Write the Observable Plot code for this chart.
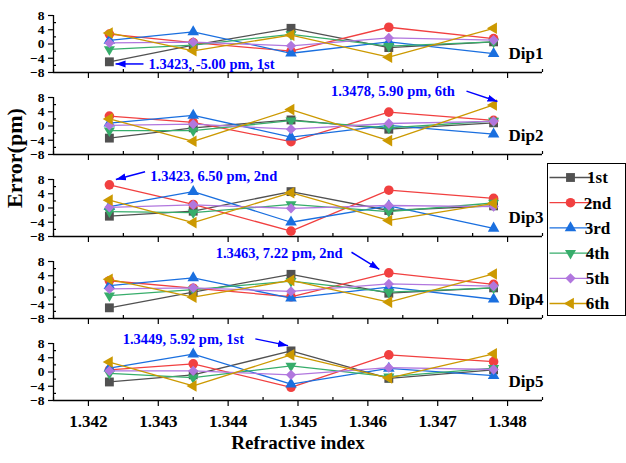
<!DOCTYPE html>
<html><head><meta charset="utf-8">
<script src="https://cdn.jsdelivr.net/npm/d3@7"></script>
<script src="https://cdn.jsdelivr.net/npm/@observablehq/plot@0.6"></script>
<style>
html,body{margin:0;padding:0;background:#fff;}
#chart{position:relative;width:626px;height:463px;}
#chart svg, #chart svg text{font-family:"Liberation Serif","Times New Roman",serif;font-weight:bold;}
</style></head><body><div id="chart"></div>
<script>
// ---- data ----
const refractiveIndex = [1.3423, 1.3435, 1.3449, 1.3463, 1.3478];
const dips = ["Dip1", "Dip2", "Dip3", "Dip4", "Dip5"];
const seriesNames = ["1st", "2nd", "3rd", "4th", "5th", "6th"];
const seriesColors = ["#515151", "#F14040", "#1A6FDF", "#37AD6B", "#B177DE", "#CC9900"];
const xTicks = [1.342, 1.343, 1.344, 1.345, 1.346, 1.347, 1.348];
const xMinorTicks = [1.3415, 1.3425, 1.3435, 1.3445, 1.3455, 1.3465, 1.3475, 1.3485];
const yTicks = [-8, -4, 0, 4, 8];
const yMinorTicks = [-6, -2, 2, 6];

// rows: 1st..6th, columns: refractive index points
const dip1 = [
  [-5.0, -0.3, 4.4, -1.0, 0.6],
  [2.8, 0.4, -2.0, 4.7, 1.5],
  [1.0, 3.4, -2.6, 0.6, -2.7],
  [-1.5, -0.3, 2.7, -0.6, 0.6],
  [0.3, 0.5, -0.5, 1.7, 1.1],
  [3.1, -1.9, 2.5, -3.7, 4.4]
];
const dip2 = [
  [-3.4, -0.5, 1.7, -0.9, 0.9],
  [2.8, 1.0, -4.4, 3.9, 1.6],
  [0.8, 3.0, -3.1, 0.2, -2.3],
  [-1.3, -1.3, 1.5, -0.5, 1.4],
  [0.2, 0.5, -0.9, 0.7, 1.3],
  [2.0, -4.3, 4.6, -4.1, 5.9]
];
const dip3 = [
  [-2.3, -0.9, 4.6, -0.7, 0.6],
  [6.5, 1.0, -6.5, 5.0, 2.7],
  [0.4, 4.6, -4.0, 0.6, -5.7],
  [-1.0, -1.3, 1.0, -1.0, 1.4],
  [0.2, 0.9, -0.1, 0.7, 0.4],
  [2.2, -4.1, 4.3, -3.5, 1.3]
];
const dip4 = [
  [-5.0, -0.6, 4.4, -0.9, 0.6],
  [2.6, 0.5, -1.9, 4.8, 1.6],
  [1.2, 3.4, -2.3, 0.8, -2.6],
  [-1.6, 0.1, 2.5, -0.6, 0.6],
  [0.3, 0.6, -0.4, 1.7, 1.1],
  [3.0, -2.0, 2.7, -3.4, 4.5]
];
const dip5 = [
  [-2.8, -0.8, 5.92, -1.8, 0.6],
  [0.6, 2.3, -4.3, 4.8, 2.9],
  [1.1, 5.0, -3.4, 1.0, -1.0],
  [-0.4, -1.6, 1.7, -1.3, 1.1],
  [0.3, 0.3, -0.8, 1.2, 0.7],
  [2.8, -3.9, 4.8, -1.7, 5.1]
];

// annotations (data coordinates)
const annotationText = ["1.3423, -5.00 pm, 1st", "1.3478, 5.90 pm, 6th", "1.3423, 6.50 pm, 2nd", "1.3463, 7.22 pm, 2nd", "1.3449, 5.92 pm, 1st"];
const annotationTextX = [1.34286, 1.345474, 1.342886, 1.343822, 1.342491];
const annotationTextY = [-5.7, 9.8, 9.0, 10.4, 9.3];
const arrowFromX = [1.342788, 1.347412, 1.342811, 1.345766, 1.344389];
const arrowFromY = [-5.6, 9.8, 10.2, 10.6, 9.3];
const arrowToX = [1.342388, 1.347856, 1.342393, 1.346164, 1.344857];
const arrowToY = [-5.6, 6.9, 8.0, 5.8, 7.4];
const dipLabelX = 1.348013;
const dipLabelY = -2.7;

// ---- build ----
const dipData = [dip1, dip2, dip3, dip4, dip5];
const rows = [];
dipData.forEach((arr, di) => arr.forEach((vals, si) => vals.forEach((v, i) =>
  rows.push({dip: dips[di], series: seriesNames[si], x: refractiveIndex[i], y: v}))));

const annotations = dips.map((d, i) => ({
  dip: d, text: annotationText[i], tx: annotationTextX[i], ty: annotationTextY[i],
  x1: arrowFromX[i], y1: arrowFromY[i], x2: arrowToX[i], y2: arrowToY[i]
}));

const markerStyle = [
  {symbol: "square", r: 5.0, rotate: 0},
  {symbol: "circle", r: 4.8, rotate: 0},
  {symbol: "triangle", r: 4.3, rotate: 0},
  {symbol: "triangle", r: 4.1, rotate: 180},
  {symbol: "square", r: 4.1, rotate: 45},
  {symbol: "triangle", r: 4.3, rotate: 270}
];

const font = "'Liberation Serif', 'Times New Roman', serif";

const seriesMarks = [];
seriesNames.forEach((s, si) => {
  const data = rows.filter(r => r.series === s);
  seriesMarks.push(Plot.line(data, {x: "x", y: "y", fy: "dip", stroke: seriesColors[si], strokeWidth: 1.3}));
  seriesMarks.push(Plot.dot(data, {x: "x", y: "y", fy: "dip", fill: seriesColors[si], stroke: "none",
    symbol: markerStyle[si].symbol, r: markerStyle[si].r, rotate: markerStyle[si].rotate}));
});

const plot = Plot.plot({
  width: 626, height: 463,
  marginLeft: 53, marginRight: 84, marginTop: 14, marginBottom: 62,
  x: {domain: [1.3415, 1.3485]},
  y: {domain: [-8, 8]},
  fy: {domain: dips, paddingInner: 25.5 / 82.5, paddingOuter: 0, axis: null, label: null},
  style: `font-family: ${font}; font-weight: bold; background: white; color: black; overflow: visible;`,
  marks: [
    Plot.axisY({ticks: yTicks, tickSize: 5, tickPadding: 4, fontSize: 13.5, fontFamily: font, fontWeight: "bold", label: null, strokeWidth: 1.2}),
    Plot.tickY(yMinorTicks, {y: d => d, insetRight: 486, strokeWidth: 1.2}),
    Plot.axisX({ticks: xTicks, tickSize: 6, tickFormat: () => "", facetAnchor: null, label: null, strokeWidth: 1.2}),
    Plot.tickX(xMinorTicks, {x: d => d, insetTop: 54, strokeWidth: 1.2}),
    Plot.axisX({ticks: xTicks, tickSize: 0, tickPadding: 14, tickFormat: d3.format(".3f"), fontSize: 17, fontFamily: font, fontWeight: "bold", label: null}),
    Plot.ruleY([-8], {strokeWidth: 1.3}),
    Plot.ruleX([1.3415], {strokeWidth: 1.3}),
    ...seriesMarks,
    Plot.text(dips, {x: () => dipLabelX, y: () => dipLabelY, fy: d => d, text: d => d, textAnchor: "start", fontSize: 17, fontFamily: font, fontWeight: "bold", fill: "black"}),
    Plot.link(annotations, {x1: "x1", y1: "y1", x2: "x2", y2: "y2", fy: "dip", stroke: "#0000ff", strokeWidth: 1.5}),
    Plot.text(annotations, {x: "tx", y: "ty", fy: "dip", text: "text", textAnchor: "start", fontSize: 14.5, fontFamily: font, fontWeight: "bold", fill: "#0000ff"}),
    Plot.text(["Refractive index"], {fy: () => "Dip5", frameAnchor: "bottom", dy: 48, fontSize: 19, fontFamily: font, fontWeight: "bold", fill: "black"}),
    Plot.text(["Error(pm)"], {fy: () => "Dip3", frameAnchor: "left", dx: -39, rotate: -90, fontSize: 22, fontFamily: font, fontWeight: "bold", fill: "black"})
  ]
});

document.getElementById("chart").appendChild(plot);

// arrowheads on annotation links
const svg = d3.select(plot);
const defs = svg.append("defs");
defs.append("marker")
  .attr("id", "ahead").attr("viewBox", "0 -4 10 8").attr("refX", 10).attr("refY", 0)
  .attr("markerWidth", 10).attr("markerHeight", 8).attr("markerUnits", "userSpaceOnUse").attr("orient", "auto")
  .append("path").attr("d", "M0,-3.5L10,0L0,3.5Z").attr("fill", "#0000ff");
svg.selectAll('g[aria-label="link"] path').attr("marker-end", "url(#ahead)");

// legend
const lg = svg.append("g").attr("transform", "translate(547.5,163.5)");
lg.append("rect").attr("width", 78).attr("height", 152).attr("fill", "white").attr("stroke", "black").attr("stroke-width", 1);
const symMap = {square: d3.symbolSquare, circle: d3.symbolCircle, triangle: d3.symbolTriangle};
seriesNames.forEach((s, i) => {
  const g = lg.append("g").attr("transform", `translate(0,${14 + i * 25.2})`);
  g.append("line").attr("x1", 2).attr("x2", 45).attr("stroke", seriesColors[i]).attr("stroke-width", 1.3);
  const ms = markerStyle[i];
  g.append("path").attr("d", d3.symbol(symMap[ms.symbol], Math.PI * ms.r * ms.r)())
    .attr("transform", `translate(23,0) rotate(${ms.rotate})`).attr("fill", seriesColors[i]);
  g.append("text").attr("x", 50).attr("dy", "0.35em").attr("font-size", 17).attr("fill", "black").text(s);
});
</script></body></html>
